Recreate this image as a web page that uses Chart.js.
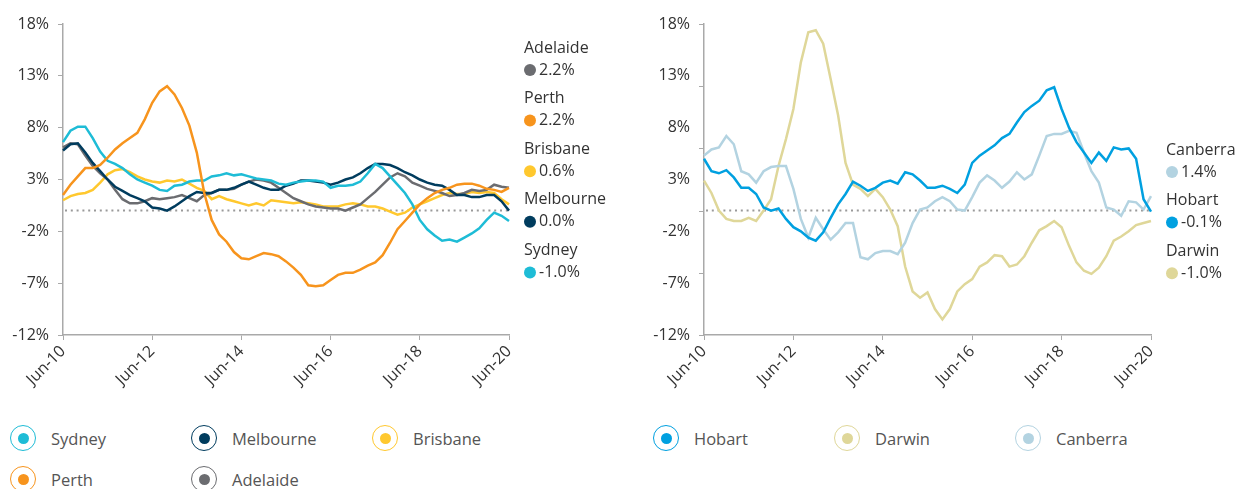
<!DOCTYPE html>
<html>
<head>
<meta charset="utf-8">
<script src="https://cdn.jsdelivr.net/npm/chart.js@4.4.1/dist/chart.umd.min.js"></script>
<style>
  body { margin: 0; background: #fff; font-family: "Open Sans", sans-serif; }
  #wrap { position: relative; width: 1240px; height: 489px; overflow: hidden; }
  canvas { position: absolute; top: 0; }
  #chart_left { left: 0; }
  #chart_right { left: 620px; }
  .leg { position: absolute; height: 27px; line-height: 27px; font-size: 16.5px; color: #555; white-space: nowrap; }
  .ring { position: absolute; left: 0; top: 0; width: 24px; height: 24px; border-radius: 50%; border: 1.5px solid; box-sizing: content-box; }
  .ring span { position: absolute; left: 6.5px; top: 6.5px; width: 11px; height: 11px; border-radius: 50%; }
  .leg .txt { position: absolute; left: 41px; top: 0; }
</style>
</head>
<body>
<div id="wrap">
  <canvas id="chart_left" width="620" height="420"></canvas>
  <canvas id="chart_right" width="620" height="420"></canvas>
  <div id="legend_left"></div>
  <div id="legend_right"></div>
</div>
<script>
//Categories: every second month, Jun-10 .. Jun-20
const months = ['Jun-10','Aug-10','Oct-10','Dec-10','Feb-11','Apr-11',
  'Jun-11','Aug-11','Oct-11','Dec-11','Feb-12','Apr-12',
  'Jun-12','Aug-12','Oct-12','Dec-12','Feb-13','Apr-13',
  'Jun-13','Aug-13','Oct-13','Dec-13','Feb-14','Apr-14',
  'Jun-14','Aug-14','Oct-14','Dec-14','Feb-15','Apr-15',
  'Jun-15','Aug-15','Oct-15','Dec-15','Feb-16','Apr-16',
  'Jun-16','Aug-16','Oct-16','Dec-16','Feb-17','Apr-17',
  'Jun-17','Aug-17','Oct-17','Dec-17','Feb-18','Apr-18',
  'Jun-18','Aug-18','Oct-18','Dec-18','Feb-19','Apr-19',
  'Jun-19','Aug-19','Oct-19','Dec-19','Feb-20','Apr-20',
  'Jun-20'];

//Annual change, %
const sydney = [6.6,7.7,8.1,8.1,7.0,5.7,4.8,4.5,4.1,3.5,3.0,2.7,2.4,2.0,1.9,2.4,2.5,2.8,2.9,2.9,3.3,3.4,3.6,3.4,3.5,3.3,3.1,3.0,2.9,2.6,2.5,2.7,2.8,2.9,2.9,2.8,2.2,2.4,2.4,2.5,2.8,3.6,4.5,4.1,3.3,2.5,1.7,0.6,-0.9,-1.8,-2.4,-2.9,-2.8,-3.0,-2.6,-2.2,-1.7,-0.9,-0.2,-0.5,-1.0];
const melbourne = [5.8,6.4,6.5,5.6,4.6,3.8,3.0,2.3,1.9,1.5,1.2,0.9,0.3,0.2,0.0,0.4,0.9,1.4,1.8,1.7,1.7,2.0,2.0,2.2,2.5,2.8,2.5,2.2,2.0,2.0,2.4,2.6,2.9,2.9,2.8,2.7,2.5,2.7,3.0,3.2,3.6,4.1,4.5,4.5,4.4,4.1,3.7,3.4,3.0,2.7,2.5,2.4,2.0,1.5,1.5,1.3,1.3,1.5,1.5,0.9,0.0];
const brisbane = [1.0,1.4,1.6,1.7,2.0,2.7,3.5,3.9,4.0,3.7,3.3,3.0,2.8,2.7,2.9,2.8,3.0,2.6,2.2,1.9,1.1,1.4,1.1,0.9,0.7,0.5,0.7,0.5,1.0,0.9,0.8,0.7,0.8,0.7,0.6,0.4,0.4,0.4,0.6,0.7,0.6,0.4,0.4,0.2,-0.1,-0.4,-0.2,0.3,0.6,0.9,1.2,1.5,1.7,1.6,1.6,1.8,1.7,1.8,1.7,1.1,0.6];
const perth = [1.5,2.5,3.3,4.1,4.1,4.4,5.1,5.9,6.5,7.0,7.5,8.8,10.4,11.5,12.0,11.2,9.9,8.2,5.6,1.7,-0.9,-2.3,-3.0,-4.0,-4.6,-4.7,-4.4,-4.1,-4.2,-4.4,-4.9,-5.5,-6.2,-7.2,-7.3,-7.2,-6.7,-6.2,-6.0,-6.0,-5.7,-5.3,-5.0,-4.3,-3.1,-1.8,-1.0,-0.2,0.6,1.2,1.7,2.0,2.2,2.5,2.6,2.6,2.4,2.1,2.0,1.8,2.2];
const adelaide = [6.1,6.5,6.4,5.3,4.3,3.6,3.0,2.0,1.1,0.7,0.7,0.9,1.2,1.1,1.2,1.3,1.5,1.2,0.9,1.5,1.7,2.0,2.0,2.1,2.5,2.8,3.0,2.9,2.7,2.2,1.7,1.2,0.9,0.6,0.4,0.3,0.2,0.2,0.0,0.3,0.6,1.2,1.8,2.5,3.2,3.6,3.3,2.7,2.4,2.1,1.9,1.7,1.4,1.5,1.7,2.0,1.9,2.0,2.5,2.3,2.2];
const hobart = [5.0,3.8,3.6,3.9,3.2,2.2,2.2,1.6,0.3,0.0,0.2,-0.8,-1.6,-2.0,-2.6,-2.9,-2.1,-0.7,0.6,1.6,2.8,2.4,1.9,2.2,2.7,2.9,2.6,3.7,3.5,2.9,2.2,2.2,2.4,2.1,1.7,2.5,4.6,5.3,5.8,6.3,7.0,7.4,8.5,9.5,10.1,10.6,11.6,11.9,9.8,8.0,6.6,5.6,4.6,5.6,4.8,6.1,5.9,6.0,5.0,1.1,-0.1];
const darwin = [2.9,1.7,0.0,-0.8,-1.0,-1.0,-0.7,-1.0,0.0,1.1,4.3,6.9,9.8,14.3,17.2,17.4,16.1,12.7,9.2,4.6,2.5,2.1,1.4,2.1,1.3,0.1,-1.5,-5.4,-7.8,-8.4,-7.9,-9.5,-10.5,-9.5,-7.8,-7.1,-6.6,-5.4,-5.0,-4.3,-4.4,-5.4,-5.2,-4.4,-3.1,-1.9,-1.5,-1.0,-1.6,-3.4,-5.0,-5.8,-6.1,-5.5,-4.4,-2.9,-2.5,-2.0,-1.4,-1.2,-1.0];
const canberra = [5.3,5.9,6.1,7.2,6.4,3.8,3.5,2.7,3.8,4.2,4.3,4.3,2.1,-0.8,-2.6,-0.7,-1.8,-2.8,-2.1,-1.2,-1.2,-4.5,-4.7,-4.1,-3.9,-3.9,-4.2,-3.1,-1.2,0.1,0.3,0.9,1.3,0.9,0.1,0.0,1.3,2.7,3.4,2.9,2.2,2.8,3.7,3.0,3.5,5.3,7.2,7.4,7.4,7.7,7.5,5.6,3.8,2.7,0.3,0.1,-0.5,0.9,0.8,0.1,1.4];

//Latest values shown at the right of each chart
const leftEndNames = ['Adelaide','Perth','Brisbane','Melbourne','Sydney'];
const leftEndValues = ['2.2%','2.2%','0.6%','0.0%','-1.0%'];
const rightEndNames = ['Canberra','Hobart','Darwin'];
const rightEndValues = ['1.4%','-0.1%','-1.0%'];

const COLORS = {
    Sydney: '#1ebcd6', Melbourne: '#003c5e', Brisbane: '#ffc82e', Perth: '#f7941d', Adelaide: '#6b6c70',
    Hobart: '#00a0e0', Darwin: '#dfd799', Canberra: '#b3d3e1'
};
const FONT = '"Open Sans", "Noto Sans", sans-serif';
const AXIS_COLOR = '#a9a9a9';

function makeDataset(name, values){
    return {
        label: name,
        data: values,
        borderColor: COLORS[name],
        backgroundColor: COLORS[name],
        borderWidth: 2.5,
        pointRadius: 0,
        tension: 0,
        fill: false
    };
}

//Dotted zero line
const zeroLine = {
    id: 'zeroLine',
    beforeDatasetsDraw(chart){
        var ctx = chart.ctx, y = chart.scales.y.getPixelForValue(0), a = chart.chartArea;
        ctx.save();
        ctx.strokeStyle = '#9a9a9a';
        ctx.lineWidth = 2;
        ctx.setLineDash([2, 3.8]);
        ctx.beginPath();
        ctx.moveTo(a.left + 2, y);
        ctx.lineTo(a.right, y);
        ctx.stroke();
        ctx.restore();
    }
};

//Name + coloured dot + latest value, stacked at the right
const endLabels = {
    id: 'endLabels',
    afterDraw(chart, args, opts){
        var ctx = chart.ctx;
        ctx.save();
        ctx.textBaseline = 'middle';
        ctx.textAlign = 'left';
        ctx.font = '16px ' + FONT;
        opts.names.forEach(function(name, i){
            var y = opts.top + i * 50.6;
            ctx.fillStyle = '#333';
            ctx.fillText(name, opts.x, y);
            ctx.fillStyle = COLORS[name];
            ctx.beginPath();
            ctx.arc(opts.x + 6, y + 22, 6, 0, Math.PI * 2);
            ctx.fill();
            ctx.fillStyle = '#333';
            ctx.fillText(opts.values[i], opts.x + 15, y + 22);
        });
        ctx.restore();
    }
};

//Right chart has its y tick marks on a 6% step, off the labels
const sideTicks = {
    id: 'sideTicks',
    afterDraw(chart, args, opts){
        if(!opts.values) return;
        var ctx = chart.ctx, s = chart.scales.y, x = chart.chartArea.left;
        ctx.save();
        ctx.strokeStyle = AXIS_COLOR;
        ctx.lineWidth = 1;
        opts.values.forEach(function(v){
            var y = Math.round(s.getPixelForValue(v)) + 0.5;
            ctx.beginPath();
            ctx.moveTo(x - 5, y);
            ctx.lineTo(x, y);
            ctx.stroke();
        });
        ctx.restore();
    }
};

function buildChart(id, datasets, yWidth, padRight, endOpts, sideTickValues){
    const config = {
        type: 'line',
        data: { labels: months, datasets: datasets },
        options: {
            responsive: false,
            animation: false,
            layout: { padding: { top: 24, right: padRight, left: 0, bottom: 0 } },
            scales: {
                x: {
                    grid: { drawOnChartArea: false, drawTicks: true, tickLength: 5, color: AXIS_COLOR },
                    border: { color: AXIS_COLOR, width: 1.5 },
                    ticks: {
                        autoSkip: false, maxRotation: 45, minRotation: 45, padding: 2,
                        color: '#333', font: { family: FONT, size: 16 },
                        callback: function(val, index){ return index % 12 === 0 ? this.getLabelForValue(val) : null; }
                    },
                    afterFit: function(scale){ scale.height = 85; }
                },
                y: {
                    min: -12, max: 18,
                    grid: { drawOnChartArea: false, drawTicks: !sideTickValues, tickLength: 5, color: AXIS_COLOR },
                    border: { color: AXIS_COLOR, width: 1.5 },
                    ticks: {
                        stepSize: 5, padding: sideTickValues ? 14 : 9,
                        color: '#333', font: { family: FONT, size: 16 },
                        callback: function(v){ return v + '%'; }
                    },
                    afterFit: function(scale){ scale.width = yWidth; }
                }
            },
            plugins: {
                legend: { display: false },
                tooltip: { enabled: false },
                endLabels: endOpts,
                sideTicks: { values: sideTickValues }
            }
        },
        plugins: [zeroLine, endLabels, sideTicks]
    };
    return new Chart(document.getElementById(id).getContext('2d'), config);
}

//Ring legend under each chart
function buildLegend(divId, names, left){
    var box = document.getElementById(divId);
    names.forEach(function(name, i){
        var col = i % 3, row = Math.floor(i / 3);
        var item = document.createElement('div');
        item.className = 'leg';
        item.style.left = (left + col * 181) + 'px';
        item.style.top = (425 + row * 41) + 'px';
        item.innerHTML = '<div class="ring" style="border-color:' + COLORS[name] + '"><span style="background:' + COLORS[name] + '"></span></div>'
            + '<div class="txt">' + name + '</div>';
        box.appendChild(item);
    });
}

buildChart('chart_left',
    [makeDataset('Perth', perth), makeDataset('Sydney', sydney), makeDataset('Melbourne', melbourne),
     makeDataset('Adelaide', adelaide), makeDataset('Brisbane', brisbane)],
    63, 111, { names: leftEndNames, values: leftEndValues, x: 524, top: 48 }, null);

buildChart('chart_right',
    [makeDataset('Hobart', hobart), makeDataset('Canberra', canberra), makeDataset('Darwin', darwin)],
    84, 89, { names: rightEndNames, values: rightEndValues, x: 546, top: 150 }, [-12, -6, 0, 6, 12, 18]);

buildLegend('legend_left', ['Sydney','Melbourne','Brisbane','Perth','Adelaide'], 10);
buildLegend('legend_right', ['Hobart','Darwin','Canberra'], 653);
</script>
</body>
</html>
